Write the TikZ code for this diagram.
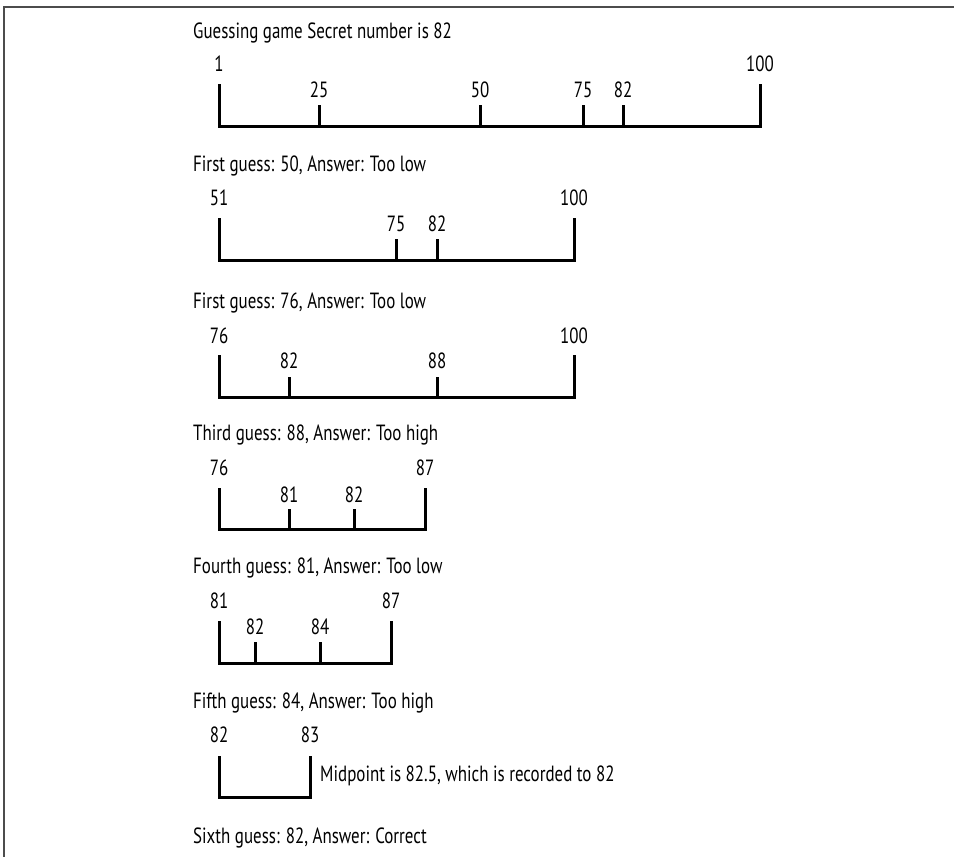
\documentclass[tikz,border=0pt]{standalone}
\usepackage{fontspec}
\setmainfont{PT Sans}[FakeStretch=0.77]
\begin{document}
\begin{tikzpicture}[x=1pt,y=-1pt,
  txt/.style={inner sep=0pt,font=\fontsize{22}{26}\selectfont},
  title/.style={txt,anchor=base west},
  lbl/.style={txt,anchor=base},
  axis/.style={line width=3pt,line join=miter,black},
  tick/.style={line width=3pt,black},
  frame/.style={line width=2pt,black!70}]
\useasboundingbox (0,0) rectangle (954,857);
\draw[frame] (4,857) -- (4,7) -- (954,7);

% Section 1
\node[title] (t1) at (193,38) {Guessing game Secret number is 82};
\node[lbl] (a1) at (219,71) {1};
\node[lbl] (a100) at (760,71) {100};
\node[lbl] (a25) at (319,97) {25};
\node[lbl] (a50) at (480,97) {50};
\node[lbl] (a75) at (583,97) {75};
\node[lbl] (a82) at (623,97) {82};
\coordinate (aL) at (219,84); \coordinate (aR) at (760,84);
\draw[axis] (aL) -- (219,126) -- (760,126) -- (aR);
\foreach \x in {319,480,583,623} \draw[tick] (\x,126) -- (\x,105);

% Section 2
\node[title] (t2) at (193,171) {First guess: 50, Answer: Too low};
\node[lbl] (b51) at (219,205) {51};
\node[lbl] (b100) at (574,205) {100};
\node[lbl] (b75) at (396,231) {75};
\node[lbl] (b82) at (437,231) {82};
\draw[axis] (219,218) -- (219,260) -- (574,260) -- (574,218);
\foreach \x in {396,437} \draw[tick] (\x,260) -- (\x,239);

% Section 3
\node[title] (t3) at (193,308) {First guess: 76, Answer: Too low};
\node[lbl] (c76) at (219,343) {76};
\node[lbl] (c100) at (574,343) {100};
\node[lbl] (c82) at (289,368) {82};
\node[lbl] (c88) at (437,368) {88};
\draw[axis] (219,355) -- (219,397) -- (574,397) -- (574,355);
\foreach \x in {289,437} \draw[tick] (\x,397) -- (\x,377);

% Section 4
\node[title] (t4) at (193,440) {Third guess: 88, Answer: Too high};
\node[lbl] (d76) at (219,475) {76};
\node[lbl] (d87) at (425,475) {87};
\node[lbl] (d81) at (289,502) {81};
\node[lbl] (d82) at (354,502) {82};
\draw[axis] (219,488) -- (219,529) -- (425,529) -- (425,488);
\foreach \x in {289,354} \draw[tick] (\x,529) -- (\x,509);

% Section 5
\node[title] (t5) at (193,573) {Fourth guess: 81, Answer: Too low};
\node[lbl] (e81) at (219,608) {81};
\node[lbl] (e87) at (391,608) {87};
\node[lbl] (e82) at (255,634) {82};
\node[lbl] (e84) at (320,634) {84};
\draw[axis] (219,621) -- (219,663) -- (391,663) -- (391,621);
\foreach \x in {255,320} \draw[tick] (\x,663) -- (\x,642);

% Section 6
\node[title] (t6) at (193,708) {Fifth guess: 84, Answer: Too high};
\node[lbl] (f82) at (219,742) {82};
\node[lbl] (f83) at (310,742) {83};
\draw[axis] (219,756) -- (219,797) -- (310,797) -- (310,756);
\node[title] (mid) at (320,781) {Midpoint is 82.5, which is recorded to 82};

\node[title] (t7) at (193,843) {Sixth guess: 82, Answer: Correct};
\end{tikzpicture}
\end{document}
